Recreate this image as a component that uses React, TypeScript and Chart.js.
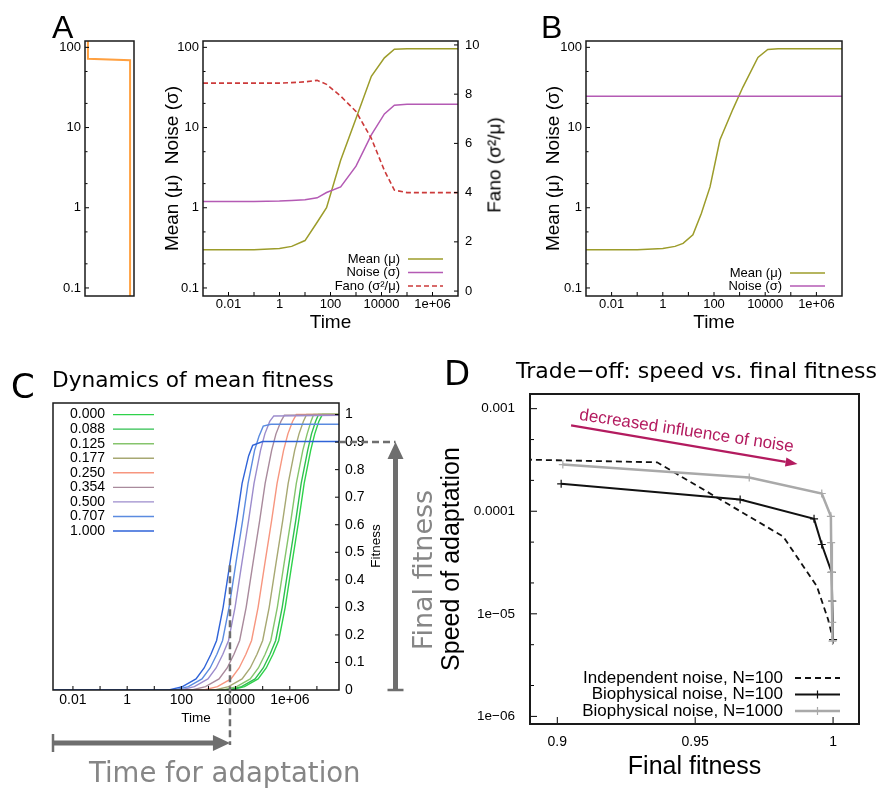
import React, { useEffect, useRef } from 'react';
import { Chart, registerables } from 'chart.js';

Chart.register(...registerables);

const SANS = "'Liberation Sans', Arial, sans-serif";
const DEJAVU = "'DejaVu Sans', sans-serif";
Chart.defaults.font.family = SANS;
Chart.defaults.color = '#000';

// ---------------- Panel A, left strip ----------------
const aStripX = [0.06, 0.06, 0.92, 0.92];
const aStripY = [200, 72, 69, 0.01];

// ---------------- Panel A, main ----------------
const aTime = [1e-3, 0.1, 1, 3, 10, 30, 70, 250, 1000, 4000, 1.3e4, 3.2e4, 1e5, 1e7];
const aMean = [0.3, 0.3, 0.31, 0.33, 0.39, 0.66, 1.0, 3.9, 13, 43.5, 74, 95, 96, 96];
const aNoise = [1.2, 1.2, 1.21, 1.23, 1.26, 1.33, 1.55, 1.82, 3.3, 8.1, 14.8, 19, 19.5, 19.5];
const aFano = [8.45, 8.45, 8.45, 8.47, 8.5, 8.56, 8.4, 7.92, 7.3, 6.2, 4.9, 4.1, 4.0, 4.0];

// ---------------- Panel B ----------------
const bTime = [1e-3, 0.1, 1, 3, 6.2, 15, 32, 70, 170, 550, 1350, 5200, 1.26e4, 3.2e4, 1e7];
const bMean = [0.3, 0.3, 0.31, 0.33, 0.36, 0.46, 0.85, 1.82, 7, 17, 32, 75, 94, 96, 96];
const bNoiseTime = [1e-3, 1e7];
const bNoise = [24.5, 24.5];

// ---------------- Panel C ----------------
const cLevels = ['0.000', '0.088', '0.125', '0.177', '0.250', '0.354', '0.500', '0.707', '1.000'];
const cColors = ['#2ed24a', '#2fbf4f', '#86c46c', '#a7a872', '#f7967f', '#a98a9c', '#9c8ccc', '#5b8be0', '#2f63d8'];
const cRiseFit = [0, 0, 0.012, 0.04, 0.08, 0.13, 0.18, 0.3, 0.46, 0.616, 0.75, 0.87, 0.93, 0.975, 1.0, 1.0];
const cLogTime = [
  [-2.8, 3.83, 4.33, 4.83, 5.13, 5.38, 5.59, 5.83, 6.08, 6.33, 6.53, 6.77, 6.92, 7.07, 7.2, 7.9],
  [-2.8, 3.72, 4.22, 4.72, 5.02, 5.27, 5.48, 5.72, 5.97, 6.22, 6.42, 6.66, 6.8, 6.95, 7.06, 7.9],
  [-2.8, 3.54, 4.04, 4.54, 4.84, 5.09, 5.3, 5.54, 5.79, 6.04, 6.24, 6.48, 6.64, 6.78, 6.88, 7.9],
  [-2.8, 3.24, 3.74, 4.24, 4.54, 4.79, 5.0, 5.24, 5.49, 5.74, 5.94, 6.18, 6.34, 6.5, 6.62, 7.9],
  [-2.8, 2.83, 3.33, 3.83, 4.13, 4.38, 4.59, 4.83, 5.08, 5.33, 5.53, 5.77, 5.93, 6.1, 6.24, 7.9],
  [-2.8, 2.39, 2.89, 3.39, 3.69, 3.94, 4.15, 4.39, 4.64, 4.89, 5.09, 5.33, 5.49, 5.67, 5.8, 7.9],
  [-2.8, 1.98, 2.48, 2.98, 3.28, 3.53, 3.74, 3.98, 4.23, 4.48, 4.68, 4.92, 5.08, 5.26, 5.41, 7.9],
  [-2.8, 1.76, 2.26, 2.76, 3.06, 3.31, 3.52, 3.76, 4.01, 4.26, 4.46, 4.7, 4.86, 5.02, 5.3, 7.9],
  [-2.8, 1.54, 2.04, 2.54, 2.84, 3.09, 3.3, 3.54, 3.79, 4.04, 4.24, 4.48, 4.63, 5.0, 7.9],
];
const cFitness = [
  cRiseFit,
  cRiseFit,
  cRiseFit,
  cRiseFit,
  cRiseFit,
  [0, 0, 0.012, 0.04, 0.08, 0.13, 0.18, 0.3, 0.46, 0.616, 0.75, 0.87, 0.93, 0.975, 0.998, 1.0],
  [0, 0, 0.012, 0.04, 0.08, 0.13, 0.18, 0.3, 0.46, 0.616, 0.75, 0.87, 0.93, 0.975, 0.995, 0.997],
  [0, 0, 0.012, 0.04, 0.08, 0.13, 0.18, 0.3, 0.46, 0.616, 0.75, 0.87, 0.92, 0.958, 0.965, 0.965],
  [0, 0, 0.012, 0.04, 0.08, 0.13, 0.18, 0.3, 0.46, 0.616, 0.75, 0.85, 0.888, 0.902, 0.902],
];
const cAdaptTime = 6.2e3;
const cAdaptMarkFit = 0.453;
const cFinalFit = 0.9;

// ---------------- Panel D ----------------
const dIndepFit = [0.885, 0.9362, 0.9819, 0.9941, 0.9982, 1.0];
const dIndepSpeed = [3.2e-4, 3.0e-4, 5.67e-5, 1.86e-5, 8.8e-6, 5.6e-6];
const dBio100Fit = [0.9014, 0.9663, 0.9931, 0.9959, 0.9995, 0.9997, 1.0];
const dBio100Speed = [1.85e-4, 1.3e-4, 8.43e-5, 4.74e-5, 2.53e-5, 1.33e-5, 5.6e-6];
const dBio1000Fit = [0.902, 0.9696, 0.9959, 0.9992, 0.9993, 0.9995, 0.9996, 0.9997, 0.9998];
const dBio1000Speed = [2.85e-4, 2.13e-4, 1.49e-4, 8.93e-5, 4.95e-5, 2.53e-5, 1.33e-5, 8.24e-6, 5.42e-6];
const dArrowStart = [0.905, 6.87e-4];
const dArrowEnd = [0.9871, 2.89e-4];
const dArrowLabel = 'decreased influence of noise';
const ARROW_COLOR = '#b31b5f';

// ---------------- Ticks ----------------
const timeTickValues = [0.01, 1, 100, 1e4, 1e6];
const timeTickLabels = ['0.01', '1', '100', '10000', '1e+06'];
const timeDecades = [0.01, 0.1, 1, 10, 100, 1000, 1e4, 1e5, 1e6];
const cTimeDecades = [0.01, 0.1, 1, 10, 100, 1000, 1e4, 1e5, 1e6, 1e7];
const meanTickValues = [0.1, 1, 10, 100];
const meanTickLabels = ['0.1', '1', '10', '100'];
const meanMinor = [0.2, 0.5, 2, 5, 20, 50];
const fanoTickValues = [0, 2, 4, 6, 8, 10];
const fanoTickLabels = ['0', '2', '4', '6', '8', '10'];
const cFitTickValues = [0, 0.1, 0.2, 0.3, 0.4, 0.5, 0.6, 0.7, 0.8, 0.9, 1];
const cFitTickLabels = ['0', '0.1', '0.2', '0.3', '0.4', '0.5', '0.6', '0.7', '0.8', '0.9', '1'];
const dSpeedTickValues = [1e-6, 1e-5, 1e-4, 1e-3];
const dSpeedTickLabels = ['1e\u221206', '1e\u221205', '0.0001', '0.001'];
const dSpeedMinor = [2e-6, 5e-6, 2e-5, 5e-5, 2e-4, 5e-4];
const dFitTickValues = [0.9, 0.95, 1];
const dFitTickLabels = ['0.9', '0.95', '1'];

// ---------------- helpers ----------------
const xy = (xs: number[], ys: number[]) => xs.map((x, i) => ({ x, y: ys[i] }));
const xyLog = (lts: number[], ys: number[]) => lts.map((l, i) => ({ x: Math.pow(10, l), y: ys[i] }));

const labelFor = (vals: number[], labels: string[], log: boolean) => (v: number) => {
  const i = vals.findIndex((t) => (log ? Math.abs(Math.log10(t) - Math.log10(v)) < 1e-6 : Math.abs(t - v) < 1e-9));
  return i >= 0 ? labels[i] : '';
};

function mkScale(o: any) {
  const isLog = o.type === 'logarithmic';
  const fmt = labelFor(o.ticks, o.labels, isLog);
  return {
    type: o.type,
    position: o.position,
    min: o.min,
    max: o.max,
    afterBuildTicks: (s: any) => {
      s.ticks = o.ticks.map((v: number) => ({ value: v }));
    },
    afterFit: (s: any) => {
      if (s.isHorizontal()) {
        s.height = o.size;
        s.paddingLeft = 0;
        s.paddingRight = 0;
      } else {
        s.width = o.size;
        s.paddingTop = 0;
        s.paddingBottom = 0;
      }
    },
    ticks: {
      autoSkip: false,
      maxRotation: 0,
      minRotation: 0,
      padding: o.pad,
      color: '#000',
      font: { family: SANS, size: o.fontSize },
      callback: (v: any) => fmt(Number(v)),
    },
    grid: { display: false, drawTicks: false },
    border: { display: false },
    title: o.title
      ? { display: true, text: o.title, color: '#000', font: { family: SANS, size: o.titleSize }, padding: o.titlePad || { top: 0, bottom: 0 } }
      : { display: false },
  };
}

const baseOptions = (padding: any, scales: any) => ({
  responsive: false,
  animation: false,
  events: [],
  layout: { padding },
  plugins: { legend: { display: false }, tooltip: { enabled: false } },
  scales,
});

type TickSpec = { scale: string; side: 'left' | 'right' | 'bottom'; major: number[]; minor?: number[]; len: number; minorLen?: number };

function framePlugin(width: number, ticks: TickSpec[]) {
  return {
    id: 'gnuFrame',
    afterDatasetsDraw(chart: any) {
      const { ctx, chartArea: a } = chart;
      ctx.save();
      ctx.strokeStyle = '#000';
      ctx.lineWidth = 1;
      for (const t of ticks) {
        const s = chart.scales[t.scale];
        const one = (v: number, L: number) => {
          const p = s.getPixelForValue(v);
          if (t.side === 'bottom') {
            if (p < a.left + 1 || p > a.right - 1) return;
            ctx.beginPath();
            ctx.moveTo(p, a.bottom);
            ctx.lineTo(p, a.bottom - L);
            ctx.stroke();
          } else {
            if (p < a.top + 1 || p > a.bottom - 1) return;
            const x0 = t.side === 'left' ? a.left : a.right;
            const dir = t.side === 'left' ? 1 : -1;
            ctx.beginPath();
            ctx.moveTo(x0, p);
            ctx.lineTo(x0 + dir * L, p);
            ctx.stroke();
          }
        };
        t.major.forEach((v) => one(v, t.len));
        (t.minor || []).forEach((v) => one(v, t.minorLen || 3));
      }
      ctx.lineWidth = width;
      ctx.strokeStyle = '#1a1a1a';
      ctx.strokeRect(a.left, a.top, a.width, a.height);
      ctx.restore();
    },
  };
}

function legendPlugin(spec: { items: { text: string; ds: number }[]; font: string; ref: 'tl' | 'br'; textX: number; x0: number; x1: number; y0: number; dy: number }) {
  return {
    id: 'gnuLegend',
    afterDatasetsDraw(chart: any) {
      const { ctx, chartArea: a } = chart;
      const ox = spec.ref === 'tl' ? a.left : a.right;
      const oy = spec.ref === 'tl' ? a.top : a.bottom;
      ctx.save();
      ctx.font = spec.font;
      ctx.textAlign = 'right';
      ctx.textBaseline = 'middle';
      spec.items.forEach((it, i) => {
        const y = oy + spec.y0 + i * spec.dy;
        ctx.fillStyle = '#000';
        ctx.fillText(it.text, ox + spec.textX, y);
        const ds = chart.data.datasets[it.ds];
        ctx.strokeStyle = ds.borderColor;
        ctx.lineWidth = ds.borderWidth;
        ctx.setLineDash(ds.borderDash || []);
        ctx.beginPath();
        ctx.moveTo(ox + spec.x0, y);
        ctx.lineTo(ox + spec.x1, y);
        ctx.stroke();
        ctx.setLineDash([]);
        if (ds.pointStyle === 'cross' && ds.pointRadius > 0) {
          const cx = ox + (spec.x0 + spec.x1) / 2;
          const r = ds.pointRadius;
          ctx.lineWidth = ds.pointBorderWidth || 1;
          ctx.strokeStyle = ds.pointBorderColor || ds.borderColor;
          ctx.beginPath();
          ctx.moveTo(cx - r, y);
          ctx.lineTo(cx + r, y);
          ctx.moveTo(cx, y - r);
          ctx.lineTo(cx, y + r);
          ctx.stroke();
        }
      });
      ctx.restore();
    },
  };
}

const cMarksPlugin = {
  id: 'cMarks',
  afterDraw(chart: any) {
    const { ctx, chartArea: a } = chart;
    const xs = chart.scales.x;
    const ys = chart.scales.y;
    const xA = xs.getPixelForValue(cAdaptTime);
    const yTop = ys.getPixelForValue(cAdaptMarkFit);
    const yF = ys.getPixelForValue(cFinalFit);
    const y0 = ys.getPixelForValue(0);
    const arrowY = a.bottom + 53;
    const arrowX = a.right + 56.5;
    ctx.save();
    ctx.strokeStyle = '#6e6e6e';
    ctx.fillStyle = '#6e6e6e';
    ctx.setLineDash([7, 4]);
    ctx.lineWidth = 2.5;
    ctx.beginPath();
    ctx.moveTo(xA, yTop);
    ctx.lineTo(xA, arrowY + 2);
    ctx.stroke();
    ctx.beginPath();
    ctx.moveTo(a.right, yF);
    ctx.lineTo(arrowX, yF);
    ctx.stroke();
    ctx.setLineDash([]);
    // horizontal arrow
    ctx.lineWidth = 5;
    ctx.beginPath();
    ctx.moveTo(a.left, arrowY);
    ctx.lineTo(xA - 15, arrowY);
    ctx.stroke();
    ctx.lineWidth = 2.5;
    ctx.beginPath();
    ctx.moveTo(a.left, arrowY - 9);
    ctx.lineTo(a.left, arrowY + 9);
    ctx.stroke();
    ctx.beginPath();
    ctx.moveTo(xA, arrowY);
    ctx.lineTo(xA - 17, arrowY - 8);
    ctx.lineTo(xA - 17, arrowY + 8);
    ctx.closePath();
    ctx.fill();
    // vertical arrow
    ctx.lineWidth = 5;
    ctx.beginPath();
    ctx.moveTo(arrowX, y0);
    ctx.lineTo(arrowX, yF + 15);
    ctx.stroke();
    ctx.lineWidth = 2.5;
    ctx.beginPath();
    ctx.moveTo(arrowX - 8, y0);
    ctx.lineTo(arrowX + 8, y0);
    ctx.stroke();
    ctx.beginPath();
    ctx.moveTo(arrowX, yF);
    ctx.lineTo(arrowX - 8, yF + 17);
    ctx.lineTo(arrowX + 8, yF + 17);
    ctx.closePath();
    ctx.fill();
    ctx.restore();
  },
};

const dArrowPlugin = {
  id: 'dArrow',
  afterDatasetsDraw(chart: any) {
    const { ctx } = chart;
    const xs = chart.scales.x;
    const ys = chart.scales.y;
    const x0 = xs.getPixelForValue(dArrowStart[0]);
    const y0 = ys.getPixelForValue(dArrowStart[1]);
    const x1 = xs.getPixelForValue(dArrowEnd[0]);
    const y1 = ys.getPixelForValue(dArrowEnd[1]);
    const ang = Math.atan2(y1 - y0, x1 - x0);
    const c = Math.cos(ang);
    const s = Math.sin(ang);
    const hl = 12;
    const hw = 4.5;
    ctx.save();
    ctx.strokeStyle = ARROW_COLOR;
    ctx.fillStyle = ARROW_COLOR;
    ctx.lineWidth = 2.2;
    ctx.beginPath();
    ctx.moveTo(x0, y0);
    ctx.lineTo(x1 - hl * c, y1 - hl * s);
    ctx.stroke();
    ctx.beginPath();
    ctx.moveTo(x1, y1);
    ctx.lineTo(x1 - hl * c + hw * s, y1 - hl * s - hw * c);
    ctx.lineTo(x1 - hl * c - hw * s, y1 - hl * s + hw * c);
    ctx.closePath();
    ctx.fill();
    const mx = (x0 + x1) / 2 + 9 * s;
    const my = (y0 + y1) / 2 - 9 * c;
    ctx.translate(mx, my);
    ctx.rotate(ang - 0.02);
    ctx.font = `17px ${SANS}`;
    ctx.textAlign = 'center';
    ctx.textBaseline = 'alphabetic';
    ctx.fillText(dArrowLabel, 0, 0);
    ctx.restore();
  },
};

const lineDs = (data: any, color: string, extra: any = {}) => ({
  data,
  borderColor: color,
  backgroundColor: color,
  borderWidth: 1.5,
  pointRadius: 0,
  tension: 0,
  fill: false,
  ...extra,
});

// ---------------- chart configs ----------------
const makeAStrip = () => ({
  type: 'line',
  data: { datasets: [lineDs(xy(aStripX, aStripY), '#ffa040', { borderWidth: 2 })] },
  options: baseOptions(
    { left: 0, top: 5, right: 6, bottom: 5 },
    {
      x: { type: 'linear', min: 0, max: 1, display: false },
      y: mkScale({ type: 'logarithmic', position: 'left', min: 0.0794, max: 120, ticks: meanTickValues, labels: meanTickLabels, fontSize: 13, pad: 4, size: 55 }),
    }
  ),
  plugins: [framePlugin(1.5, [{ scale: 'y', side: 'left', major: meanTickValues, minor: meanMinor, len: 4, minorLen: 2.5 }])],
});

const makeAMain = () => ({
  type: 'line',
  data: {
    datasets: [
      lineDs(xy(aTime, aMean), '#9c9c2a', { yAxisID: 'y', order: 2 }),
      lineDs(xy(aTime, aNoise), '#b45ab4', { yAxisID: 'y', order: 1 }),
      lineDs(xy(aTime, aFano), '#cc3a3a', { yAxisID: 'y2', borderDash: [5, 3], borderWidth: 1.6, order: 0 }),
    ],
  },
  options: baseOptions(
    { left: 0, top: 5, right: 0, bottom: 0 },
    {
      x: mkScale({ type: 'logarithmic', position: 'bottom', min: 1e-3, max: 1e7, ticks: timeTickValues, labels: timeTickLabels, fontSize: 13, pad: 1, size: 38, title: 'Time', titleSize: 19 }),
      y: mkScale({ type: 'logarithmic', position: 'left', min: 0.0794, max: 120, ticks: meanTickValues, labels: meanTickLabels, fontSize: 13, pad: 4, size: 48, title: 'Mean (\u03bc)  Noise (\u03c3)', titleSize: 19, titlePad: { top: 6, bottom: 0 } }),
      y2: mkScale({ type: 'linear', position: 'right', min: -0.2, max: 10.16, ticks: fanoTickValues, labels: fanoTickLabels, fontSize: 13, pad: 7, size: 32 }),
    }
  ),
  plugins: [
    framePlugin(1.5, [
      { scale: 'x', side: 'bottom', major: timeDecades, len: 4 },
      { scale: 'y', side: 'left', major: meanTickValues, minor: meanMinor, len: 4, minorLen: 2.5 },
      { scale: 'y2', side: 'right', major: fanoTickValues, len: 4 },
    ]),
    legendPlugin({
      items: [
        { text: 'Mean (\u03bc)', ds: 0 },
        { text: 'Noise (\u03c3)', ds: 1 },
        { text: 'Fano (\u03c3\u00b2/\u03bc)', ds: 2 },
      ],
      font: `13px ${SANS}`,
      ref: 'br',
      textX: -58,
      x0: -50,
      x1: -15,
      y0: -37,
      dy: 13.5,
    }),
  ],
});

const makeB = () => ({
  type: 'line',
  data: {
    datasets: [
      lineDs(xy(bTime, bMean), '#9c9c2a', { order: 1 }),
      lineDs(xy(bNoiseTime, bNoise), '#b45ab4', { order: 0 }),
    ],
  },
  options: baseOptions(
    { left: 0, top: 5, right: 8, bottom: 0 },
    {
      x: mkScale({ type: 'logarithmic', position: 'bottom', min: 1e-3, max: 1e7, ticks: timeTickValues, labels: timeTickLabels, fontSize: 13, pad: 1, size: 38, title: 'Time', titleSize: 19 }),
      y: mkScale({ type: 'logarithmic', position: 'left', min: 0.0794, max: 120, ticks: meanTickValues, labels: meanTickLabels, fontSize: 13, pad: 4, size: 49, title: 'Mean (\u03bc)  Noise (\u03c3)', titleSize: 19, titlePad: { top: 5.6, bottom: 0 } }),
    }
  ),
  plugins: [
    framePlugin(1.5, [
      { scale: 'x', side: 'bottom', major: timeDecades, len: 4 },
      { scale: 'y', side: 'left', major: meanTickValues, minor: meanMinor, len: 4, minorLen: 2.5 },
    ]),
    legendPlugin({
      items: [
        { text: 'Mean (\u03bc)', ds: 0 },
        { text: 'Noise (\u03c3)', ds: 1 },
      ],
      font: `13px ${SANS}`,
      ref: 'br',
      textX: -60,
      x0: -52,
      x1: -17,
      y0: -23,
      dy: 13,
    }),
  ],
});

const makeC = () => ({
  type: 'line',
  data: {
    datasets: cLevels.map((_, k) => lineDs(xyLog(cLogTime[k], cFitness[k]), cColors[k], { order: cLevels.length - 1 - k, borderWidth: 1.4 })),
  },
  options: baseOptions(
    { left: 53, top: 8, right: 0, bottom: 64 },
    {
      x: mkScale({ type: 'logarithmic', position: 'bottom', min: 1.837e-3, max: 6.53e7, ticks: timeTickValues, labels: timeTickLabels, fontSize: 14, pad: 1.6, size: 36, title: 'Time', titleSize: 13.5 }),
      y: mkScale({ type: 'linear', position: 'right', min: 0, max: 1.042, ticks: cFitTickValues, labels: cFitTickLabels, fontSize: 14, pad: 6, size: 101 }),
    }
  ),
  plugins: [
    framePlugin(1.5, [
      { scale: 'x', side: 'bottom', major: cTimeDecades, len: 4 },
      { scale: 'y', side: 'right', major: cFitTickValues, len: 4 },
    ]),
    legendPlugin({
      items: cLevels.map((t, k) => ({ text: t, ds: k })),
      font: `14px ${SANS}`,
      ref: 'tl',
      textX: 52,
      x0: 60,
      x1: 101,
      y0: 11.6,
      dy: 14.55,
    }),
    cMarksPlugin,
  ],
});

const makeD = () => ({
  type: 'line',
  data: {
    datasets: [
      lineDs(xy(dIndepFit, dIndepSpeed), '#111111', { borderDash: [6, 4], borderWidth: 1.8, order: 2 }),
      lineDs(xy(dBio100Fit, dBio100Speed), '#111111', { borderWidth: 2, pointStyle: 'cross', pointRadius: 4, pointBorderWidth: 1.2, pointBorderColor: '#111111', order: 1 }),
      lineDs(xy(dBio1000Fit, dBio1000Speed), '#a9a9a9', { borderWidth: 2.5, pointStyle: 'cross', pointRadius: 4, pointBorderWidth: 1.2, pointBorderColor: '#a9a9a9', order: 0 }),
    ],
  },
  options: baseOptions(
    { left: 0, top: 6, right: 20, bottom: 0 },
    {
      x: mkScale({ type: 'linear', position: 'bottom', min: 0.8901, max: 1.0094, ticks: dFitTickValues, labels: dFitTickLabels, fontSize: 14, pad: 9.6, size: 58, title: 'Final fitness', titleSize: 25 }),
      y: mkScale({ type: 'logarithmic', position: 'left', min: 8.43e-7, max: 1.39e-3, ticks: dSpeedTickValues, labels: dSpeedTickLabels, fontSize: 13.5, pad: 15, size: 93, title: 'Speed of adaptation', titleSize: 25, titlePad: { top: 0, bottom: 0 } }),
    }
  ),
  plugins: [
    framePlugin(2, [
      { scale: 'x', side: 'bottom', major: dFitTickValues, len: 7 },
      { scale: 'y', side: 'left', major: dSpeedTickValues, minor: dSpeedMinor, len: 7, minorLen: 4 },
    ]),
    legendPlugin({
      items: [
        { text: 'Independent noise, N=100', ds: 0 },
        { text: 'Biophysical noise, N=100', ds: 1 },
        { text: 'Biophysical noise, N=1000', ds: 2 },
      ],
      font: `17px ${SANS}`,
      ref: 'br',
      textX: -76,
      x0: -64,
      x1: -19,
      y0: -46,
      dy: 16.5,
    }),
    dArrowPlugin,
  ],
});

// ---------------- components ----------------
function ChartBox({ left, top, width, height, make }: { left: number; top: number; width: number; height: number; make: () => any }) {
  const ref = useRef<HTMLCanvasElement>(null);
  useEffect(() => {
    const chart = new Chart(ref.current as HTMLCanvasElement, make());
    return () => chart.destroy();
  }, []);
  return <canvas ref={ref} width={width} height={height} style={{ position: 'absolute', left, top, width, height }} />;
}

function Txt({ x, y, size, family, color = '#000', rot = false, children }: any) {
  const st: any = {
    position: 'absolute',
    left: x,
    top: y,
    fontSize: size,
    fontFamily: family,
    color,
    lineHeight: 1,
    whiteSpace: 'nowrap',
  };
  if (rot) st.transform = 'translate(-50%, -50%) rotate(-90deg)';
  return <div style={st}>{children}</div>;
}

export default function App() {
  return (
    <div style={{ position: 'absolute', left: 0, top: 0, width: 879, height: 790, overflow: 'hidden', background: '#fff' }}>
      <ChartBox left={30} top={36} width={110} height={265} make={makeAStrip} />
      <ChartBox left={155} top={36} width={335} height={298} make={makeAMain} />
      <ChartBox left={537} top={36} width={313} height={298} make={makeB} />
      <ChartBox left={0} top={395} width={440} height={395} make={makeC} />
      <ChartBox left={437} top={388} width={442} height={394} make={makeD} />

      <Txt x={52} y={11} size={32} family={SANS}>A</Txt>
      <Txt x={541} y={11} size={32} family={SANS}>B</Txt>
      <Txt x={11} y={369} size={34} family={DEJAVU}>C</Txt>
      <Txt x={444} y={356} size={34} family={DEJAVU}>D</Txt>
      <Txt x={494} y={165} size={19} family={SANS} rot>Fano (σ²/μ)</Txt>
      <Txt x={52} y={368.5} size={21.7} family={DEJAVU}>Dynamics of mean fitness</Txt>
      <Txt x={516} y={359.7} size={22} family={DEJAVU}>Trade−off: speed vs. final fitness</Txt>
      <Txt x={376} y={546} size={13.5} family={SANS} rot>Fitness</Txt>
      <Txt x={422} y={570} size={27} family={DEJAVU} color="#868686" rot>Final fitness</Txt>
      <Txt x={89} y={759.4} size={27.5} family={DEJAVU} color="#868686">Time for adaptation</Txt>
    </div>
  );
}
